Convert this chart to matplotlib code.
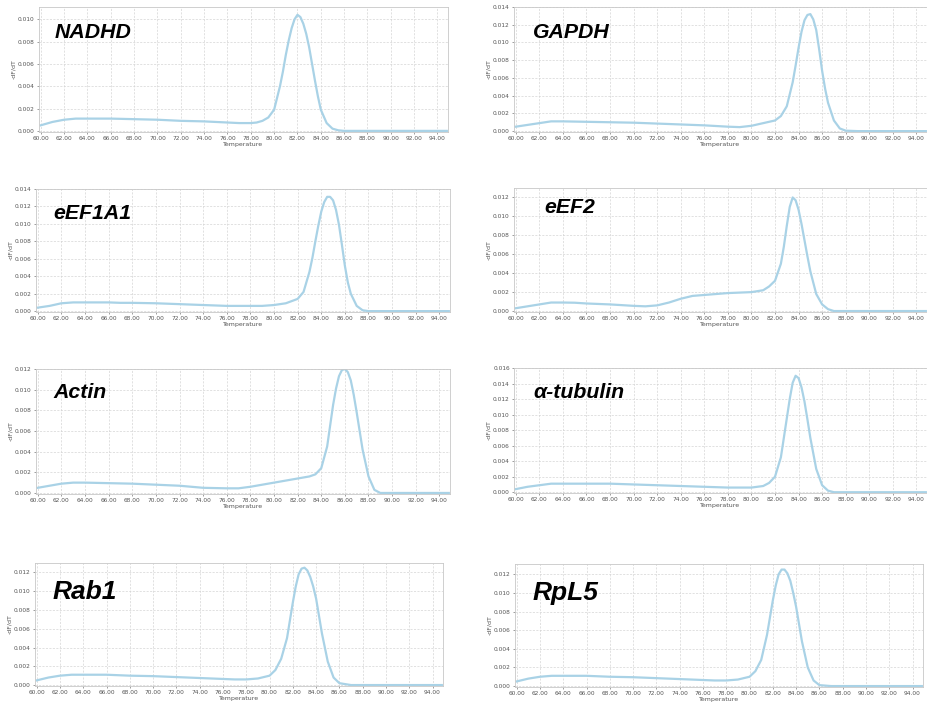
import matplotlib
matplotlib.use("Agg")
import matplotlib.pyplot as plt
import numpy as np

# melt curve values (temperature, -dF/dT)
nadhd_t = [60, 61, 62, 63, 64, 66, 68, 70, 72, 74, 76, 77, 78, 78.5, 79, 79.5, 80, 80.5, 80.75, 81,
           81.25, 81.5, 81.75, 82, 82.25, 82.5, 82.75, 83, 83.25, 83.5, 83.75, 84, 84.5, 85, 85.5,
           86, 88, 94.8]
nadhd_v = [0.0005, 0.0008, 0.0010, 0.0011, 0.0011, 0.0011, 0.00105, 0.0010, 0.0009, 0.00085, 0.00075,
           0.0007, 0.0007, 0.00075, 0.0009, 0.0012, 0.0019, 0.0040, 0.0053, 0.0068,
           0.0081, 0.0092, 0.0100, 0.0104, 0.0102, 0.0096, 0.0087, 0.0075, 0.0060, 0.0045, 0.0031,
           0.0019, 0.0007, 0.0002, 0.00005, 0.0, 0.0, 0.0]

gapdh_t = [60, 61, 62, 63, 64, 66, 68, 70, 72, 74, 76, 78, 79, 80, 81, 82, 82.5, 83, 83.5,
           83.75, 84, 84.25, 84.5, 84.75, 85, 85.25, 85.5, 85.75, 86, 86.25, 86.5, 87, 87.5, 88,
           89, 94.8]
gapdh_v = [0.0005, 0.0007, 0.0009, 0.0011, 0.0011, 0.00105, 0.0010, 0.00095, 0.00085, 0.00075,
           0.00065, 0.0005, 0.00045, 0.0006, 0.0009, 0.0012, 0.0017, 0.0028, 0.0055,
           0.0074, 0.0094, 0.0112, 0.0125, 0.0131, 0.0132, 0.0126, 0.0114, 0.0092, 0.0068,
           0.0048, 0.0032, 0.0012, 0.0003, 0.00005, 0.0, 0.0]

eef1a1_t = [60, 61, 62, 63, 64, 66, 67, 68, 70, 72, 74, 76, 78, 79, 80, 81, 82, 82.5, 83, 83.25,
            83.5, 83.75, 84, 84.25, 84.5, 84.75, 85, 85.25, 85.5, 85.75, 86, 86.25, 86.5, 87,
            87.5, 88, 94.8]
eef1a1_v = [0.0004, 0.0006, 0.0009, 0.0010, 0.0010, 0.0010, 0.00095, 0.00095, 0.0009, 0.0008,
            0.0007, 0.0006, 0.0006, 0.0006, 0.0007, 0.0009, 0.0014, 0.0022, 0.0045, 0.0061,
            0.0080, 0.0098, 0.0114, 0.0125, 0.0131, 0.0131, 0.0127, 0.0116, 0.0099, 0.0076,
            0.0052, 0.0033, 0.0020, 0.0006, 0.0001, 0.0, 0.0]

eef2_t = [60, 61, 62, 63, 64, 65, 66, 68, 70, 71, 72, 73, 74, 75, 76, 78, 80, 81, 81.5, 82,
          82.5, 82.75, 83, 83.25, 83.5, 83.75, 84, 84.25, 84.5, 84.75, 85, 85.5, 86, 86.5, 87,
          94.8]
eef2_v = [0.0003, 0.0005, 0.0007, 0.0009, 0.0009, 0.00088, 0.0008, 0.0007, 0.00055, 0.0005,
          0.0006, 0.0009, 0.0013, 0.0016, 0.0017, 0.0019, 0.0020, 0.0022, 0.0026, 0.0032,
          0.0050, 0.0068, 0.0090, 0.0110, 0.0120, 0.0117, 0.0107, 0.0092, 0.0075, 0.0058,
          0.0042, 0.0018, 0.0007, 0.0002, 0.0, 0.0]

actin_t = [60, 61, 62, 63, 64, 66, 68, 70, 72, 74, 76, 77, 78, 79, 80, 81, 82, 83, 83.5, 84,
           84.5, 85, 85.25, 85.5, 85.75, 86, 86.25, 86.5, 86.75, 87, 87.25, 87.5, 88, 88.5, 89,
           94.8]
actin_v = [0.0005, 0.0007, 0.0009, 0.0010, 0.0010, 0.00095, 0.0009, 0.0008, 0.0007, 0.0005,
           0.00045, 0.00045, 0.0006, 0.0008, 0.0010, 0.0012, 0.0014, 0.0016, 0.0018, 0.0024,
           0.0045, 0.0085, 0.0101, 0.0113, 0.0119, 0.0120, 0.0117, 0.0109, 0.0095, 0.0078,
           0.0060, 0.0042, 0.0016, 0.0003, 0.0, 0.0]

tub_t = [60, 61, 62, 63, 64, 66, 68, 70, 72, 74, 76, 78, 79, 80, 81, 81.5, 82, 82.5, 83, 83.25,
         83.5, 83.75, 84, 84.25, 84.5, 84.75, 85, 85.5, 86, 86.5, 87, 94.8]
tub_v = [0.0004, 0.0007, 0.0009, 0.0011, 0.0011, 0.0011, 0.0011, 0.0010, 0.0009, 0.0008,
         0.0007, 0.0006, 0.0006, 0.0006, 0.0008, 0.0012, 0.0020, 0.0045, 0.0095, 0.0120,
         0.0141, 0.0150, 0.0147, 0.0135, 0.0117, 0.0094, 0.0070, 0.0030, 0.0009, 0.0002, 0.0, 0.0]

rab1_t = [60, 61, 62, 63, 64, 66, 68, 70, 72, 74, 76, 77, 78, 79, 80, 80.5, 81, 81.5, 82,
          82.25, 82.5, 82.75, 83, 83.25, 83.5, 83.75, 84, 84.5, 85, 85.5, 86, 87, 94.8]
rab1_v = [0.0005, 0.0008, 0.0010, 0.0011, 0.0011, 0.0011, 0.0010, 0.00095, 0.00085, 0.00075,
          0.00065, 0.0006, 0.0006, 0.0007, 0.0010, 0.0016, 0.0028, 0.0050, 0.0088,
          0.0105, 0.0118, 0.0124, 0.0125, 0.0122, 0.0115, 0.0105, 0.0092, 0.0055, 0.0025,
          0.0008, 0.0002, 0.0, 0.0]

rpl5_t = [60, 61, 62, 63, 64, 66, 68, 70, 72, 74, 76, 77, 78, 79, 80, 80.5, 81, 81.5, 82,
          82.25, 82.5, 82.75, 83, 83.25, 83.5, 83.75, 84, 84.5, 85, 85.5, 86, 87, 94.8]
rpl5_v = [0.0005, 0.0008, 0.0010, 0.0011, 0.0011, 0.0011, 0.0010, 0.00095, 0.00085, 0.00075,
          0.00065, 0.0006, 0.0006, 0.0007, 0.0010, 0.0016, 0.0028, 0.0055, 0.0092,
          0.0108, 0.0120, 0.0125, 0.0125, 0.0121, 0.0113, 0.0100, 0.0085, 0.0048, 0.0020,
          0.0006, 0.0001, 0.0, 0.0]

names = ["NADHD", "GAPDH", "eEF1A1", "eEF2", "Actin", "α-tubulin", "Rab1", "RpL5"]
temps = [nadhd_t, gapdh_t, eef1a1_t, eef2_t, actin_t, tub_t, rab1_t, rpl5_t]
values = [nadhd_v, gapdh_v, eef1a1_v, eef2_v, actin_v, tub_v, rab1_v, rpl5_v]
y_tops = [0.0111, 0.014, 0.014, 0.0130, 0.012, 0.016, 0.0130, 0.0131]

# panel boxes in pixels: left, top, right, bottom
boxes = [(39, 7, 448, 132), (514, 7, 927, 132),
         (36, 189, 450, 312), (514, 188, 927, 312),
         (36, 369, 450, 494), (514, 368, 927, 493),
         (35, 563, 443, 686), (515, 564, 923, 687)]
# gene label position (pixels, left / vertical centre) and size
label_pos = [(55, 32, 15.3), (533, 32, 15.3), (53, 213, 15.3), (544, 208, 15.3),
             (53, 393, 15.3), (533, 393, 15.3), (53, 592, 19), (533, 593, 19)]

W, H = 928, 707
fig = plt.figure(figsize=(W / 100, H / 100), dpi=100)
line_col = "#a9d2e6"
grid_col = "#d4d4d4"

for i in range(8):
    l, t, r, b = boxes[i]
    ax = fig.add_axes([l / W, 1 - b / H, (r - l) / W, (b - t) / H])
    ax.plot(temps[i], values[i], color=line_col, lw=1.6, solid_joinstyle="round")
    ax.set_xlim(59.85, 94.9)
    ax.set_ylim(-0.0001, y_tops[i])
    ax.set_xticks(np.arange(60, 95, 2))
    ax.set_xticklabels(["%.2f" % v for v in np.arange(60, 95, 2)])
    ax.set_yticks(np.arange(0, y_tops[i] + 1e-9, 0.002))
    ax.set_yticklabels(["%.3f" % v for v in np.arange(0, y_tops[i] + 1e-9, 0.002)])
    ax.tick_params(labelsize=4.2, colors="#555555", length=1.5, width=0.4, pad=1.5)
    ax.grid(True, color=grid_col, lw=0.5, ls=(0, (3, 2)))
    ax.set_axisbelow(True)
    for s in ax.spines.values():
        s.set_color("#c8c8c8")
        s.set_linewidth(0.6)
    ax.set_xlabel("Temperature", fontsize=4.5, color="#555555", labelpad=0.5)
    ax.set_ylabel("-dF/dT", fontsize=4.5, color="#555555", labelpad=1)

    lx, ly, fs = label_pos[i]
    fig.text(lx / W, 1 - ly / H, names[i], fontsize=fs, fontweight="bold", fontstyle="italic",
             family=["Liberation Sans", "DejaVu Sans"], va="center", ha="left", color="black")

fig.savefig("out.png", dpi=100, facecolor="white")
